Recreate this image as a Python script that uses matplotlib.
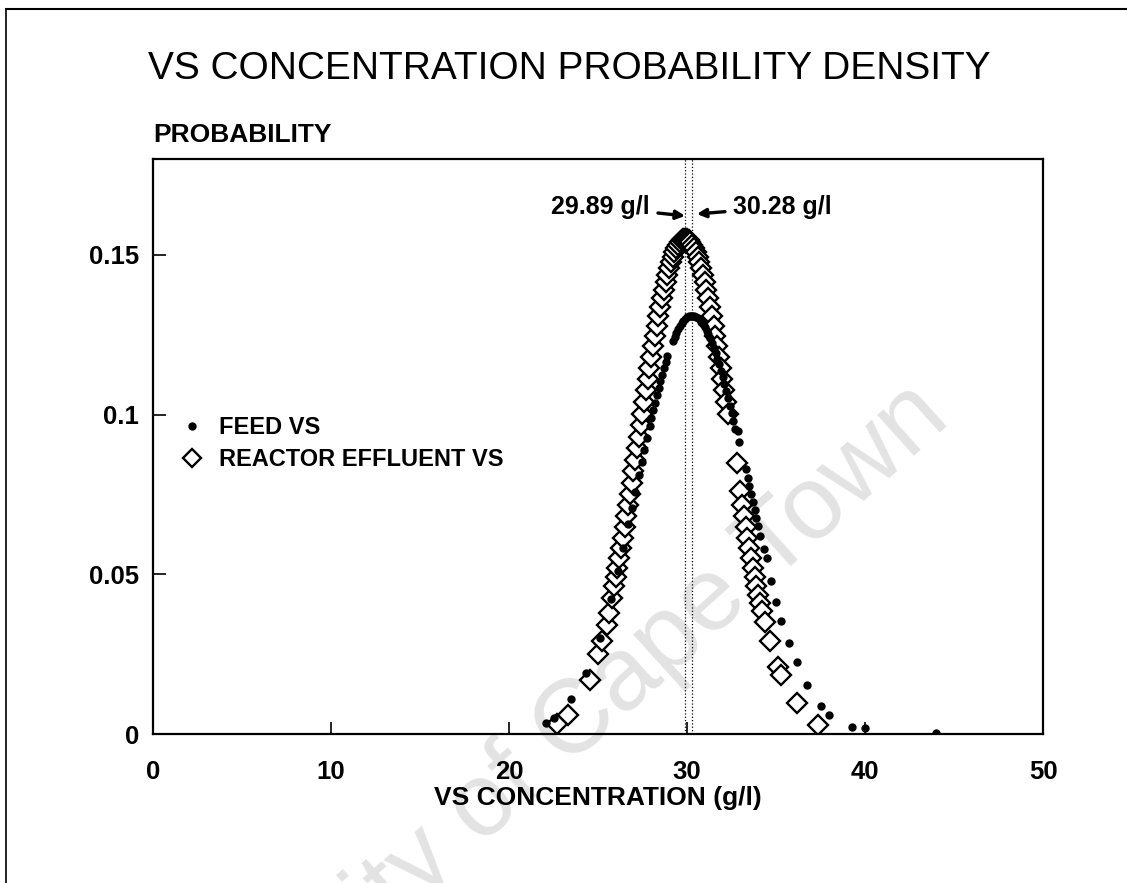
import numpy as np
import matplotlib
matplotlib.use("Agg")
import matplotlib.pyplot as plt
from matplotlib.lines import Line2D

plt.rcParams["font.family"] = ["Liberation Sans", "DejaVu Sans"]

# feed VS (filled dots)
feed_x = [22.1, 22.5, 23.5, 24.3, 25.1, 25.7, 26.1, 26.4, 26.7, 26.9, 27.1, 27.3,
          27.45, 27.6, 27.75, 27.9, 28.0, 28.1, 28.2, 28.3, 28.4, 28.5, 28.6, 28.7,
          28.8, 28.9, 29.2, 29.3, 29.4, 29.5, 29.6, 29.7, 29.8, 29.9, 30.0, 30.1,
          30.2, 30.3, 30.4, 30.5, 30.6, 30.7, 30.8, 30.9, 31.0, 31.1, 31.2, 31.3,
          31.4, 31.5, 31.6, 31.7, 31.8, 31.9, 32.0, 32.1, 32.2, 32.3, 32.4, 32.5,
          32.6, 32.7, 32.88, 32.9, 33.3, 33.4, 33.5, 33.6, 33.7, 33.8, 33.9, 34.0,
          34.1, 34.3, 34.47, 34.7, 35.0, 35.3, 35.75, 36.16, 36.76, 37.5, 38.0,
          39.25, 40.0, 44.0]
feed_y = [0.0035, 0.0050, 0.0110, 0.0190, 0.0300, 0.0423, 0.0511, 0.0582, 0.0656,
          0.0707, 0.0759, 0.0812, 0.0851, 0.0889, 0.0928, 0.0965, 0.0990, 0.1014,
          0.1037, 0.1060, 0.1083, 0.1104, 0.1125, 0.1145, 0.1164, 0.1182, 0.1230,
          0.1244, 0.1256, 0.1268, 0.1278, 0.1286, 0.1294, 0.1300, 0.1304, 0.1308,
          0.1310, 0.1310, 0.1309, 0.1307, 0.1303, 0.1298, 0.1291, 0.1283, 0.1274,
          0.1263, 0.1252, 0.1239, 0.1224, 0.1209, 0.1193, 0.1175, 0.1157, 0.1137,
          0.1117, 0.1096, 0.1074, 0.1051, 0.1028, 0.1004, 0.0980, 0.0955, 0.0950,
          0.0915, 0.0830, 0.0800, 0.0775, 0.0750, 0.0725, 0.0700, 0.0675, 0.0650,
          0.0620, 0.0580, 0.0550, 0.0480, 0.0414, 0.0354, 0.0284, 0.0226, 0.0153,
          0.0089, 0.0060, 0.0023, 0.0018, 0.0003]

# reactor effluent VS (open diamonds)
eff_x = [22.67, 23.33, 24.55, 25.02, 25.20, 25.49, 25.60, 25.77,
         25.89, 25.99, 26.09, 26.19, 26.29, 26.39, 26.49, 26.59, 26.69, 26.79,
         26.89, 26.99, 27.09, 27.19, 27.29, 27.39, 27.49, 27.59, 27.69, 27.79,
         27.89, 27.99, 28.09, 28.19, 28.29, 28.39, 28.49, 28.59, 28.69, 28.79,
         28.89, 28.99, 29.09, 29.19, 29.29, 29.39, 29.49, 29.59, 29.69, 29.79,
         29.89, 29.99, 30.09, 30.19, 30.29, 30.39, 30.49, 30.59, 30.69, 30.79,
         30.89, 30.99, 31.09, 31.19, 31.29, 31.39, 31.49, 31.59, 31.69, 31.79,
         31.89, 31.99, 32.09, 32.19, 32.29,
         32.79, 32.99, 33.09, 33.19, 33.29, 33.39, 33.49, 33.59, 33.69, 33.79,
         33.89, 33.99, 34.09, 34.19, 34.38, 34.66, 35.10, 35.30, 36.16, 37.38]
eff_y = [0.0030, 0.0060, 0.0170, 0.0250, 0.0290, 0.0340, 0.0380, 0.0425,
         0.0463, 0.0492, 0.0521, 0.0552, 0.0583, 0.0615, 0.0648, 0.0681, 0.0716,
         0.0751, 0.0786, 0.0822, 0.0858, 0.0894, 0.0931, 0.0967, 0.1003, 0.1040,
         0.1076, 0.1111, 0.1146, 0.1180, 0.1214, 0.1246, 0.1278, 0.1308, 0.1337,
         0.1364, 0.1390, 0.1415, 0.1437, 0.1458, 0.1477, 0.1494, 0.1508, 0.1521,
         0.1531, 0.1539, 0.1545, 0.1549, 0.1550, 0.1549, 0.1545, 0.1539, 0.1531,
         0.1521, 0.1508, 0.1494, 0.1477, 0.1458, 0.1437, 0.1415, 0.1390, 0.1364,
         0.1337, 0.1308, 0.1278, 0.1246, 0.1214, 0.1180, 0.1146, 0.1111, 0.1076,
         0.1040, 0.1003,
         0.0850, 0.0760, 0.0716, 0.0681, 0.0648, 0.0615, 0.0583, 0.0552, 0.0521,
         0.0492, 0.0463, 0.0436, 0.0410, 0.0384, 0.0350, 0.0290, 0.0210, 0.0185,
         0.0096, 0.0028]

# means marked on the chart
mean_eff = 29.89
mean_feed = 30.28

x_ticks = [0, 10, 20, 30, 40, 50]
y_ticks = [0, 0.05, 0.1, 0.15]
y_ticklabels = ["0", "0.05", "0.1", "0.15"]

fig = plt.figure(figsize=(11.27, 8.83), dpi=100)
ax = fig.add_axes([0.1358, 0.1687, 0.7897, 0.6512])
ax.set_facecolor("none")

# scan watermark (behind everything)
fig.text(0.46, 0.12, "University of Cape Town", fontsize=75, color="#e3e3e3",
         rotation=42, rotation_mode="anchor", ha="center", va="center", zorder=-1)

# page border from the scan
fig.add_artist(Line2D([0.005, 0.005], [0, 0.99], color="black", lw=1.2))
fig.add_artist(Line2D([0.005, 1.0], [0.99, 0.99], color="black", lw=1.5))

ax.axvline(mean_eff, color="black", lw=0.9, ls=":", zorder=1)
ax.axvline(mean_feed, color="black", lw=0.9, ls=":", zorder=1)

ax.plot(eff_x, eff_y, ls="none", marker="D", ms=10.5, mfc="white", mec="black",
        mew=1.7, zorder=2, label="REACTOR EFFLUENT VS")
ax.plot(feed_x, feed_y, ls="none", marker="o", ms=5, color="black", zorder=3,
        label="FEED VS")

ax.set_xlim(0, 50)
ax.set_ylim(0, 0.18)
ax.set_xticks(x_ticks)
ax.set_yticks(y_ticks)
ax.set_yticklabels(y_ticklabels)
ax.tick_params(direction="in", length=9, width=1.2, labelsize=18.5)
ax.tick_params(axis="y", pad=10)
ax.tick_params(axis="x", pad=19)
for lab in ax.get_xticklabels() + ax.get_yticklabels():
    lab.set_fontweight("bold")
for sp in ax.spines.values():
    sp.set_linewidth(1.6)

ax.set_xlabel("VS CONCENTRATION (g/l)", fontsize=19, fontweight="bold", labelpad=1)
fig.text(0.136, 0.847, "PROBABILITY", fontsize=19, fontweight="bold",
         ha="left", va="center")
fig.text(0.505, 0.922, "VS CONCENTRATION PROBABILITY DENSITY", fontsize=28,
         ha="center", va="center")

ax.annotate("29.89 g/l", xy=(mean_eff, 0.1622), xytext=(27.9, 0.1650),
            fontsize=18, fontweight="bold", ha="right", va="center",
            arrowprops=dict(arrowstyle="-|>", color="black", lw=2.4,
                            mutation_scale=13, shrinkA=4, shrinkB=0))
ax.annotate("30.28 g/l", xy=(30.55, 0.1628), xytext=(32.6, 0.1650),
            fontsize=18, fontweight="bold", ha="left", va="center",
            arrowprops=dict(arrowstyle="-|>", color="black", lw=2.4,
                            mutation_scale=13, shrinkA=4, shrinkB=0))

h, l = ax.get_legend_handles_labels()
leg = ax.legend(h[::-1], l[::-1], loc="upper left", bbox_to_anchor=(0.004, 0.59),
                frameon=False, prop=dict(size=17, weight="bold"),
                handletextpad=0.55, labelspacing=0.38, handlelength=1.2)
leg.legend_handles[1].set_markersize(9)

fig.savefig("out.png", dpi=100)
